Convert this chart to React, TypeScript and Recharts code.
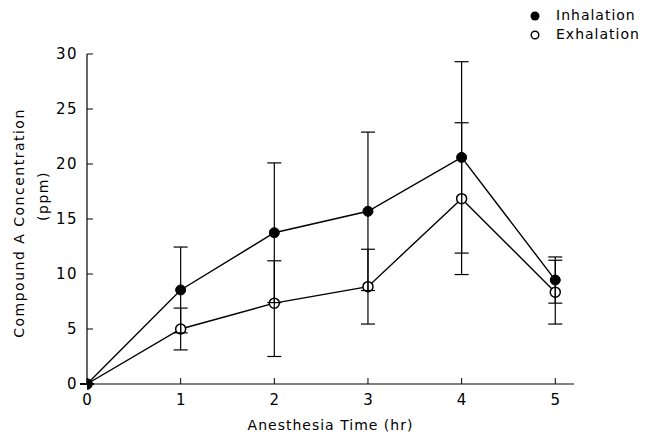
import { LineChart, Line, XAxis, YAxis, ErrorBar, Legend, Label } from "recharts"

const hours = [0, 1, 2, 3, 4, 5]
const inhalation = [0, 8.55, 13.75, 15.7, 20.6, 9.45]
const inhalationSd = [0, 3.9, 6.35, 7.2, 8.7, 2.1]
const exhalation = [0, 5.0, 7.35, 8.85, 16.85, 8.35]
const exhalationSdLow = [0, 1.9, 4.85, 3.4, 6.9, 2.9]
const exhalationSdHigh = [0, 1.9, 3.85, 3.4, 6.9, 2.9]
const yTicks = [0, 5, 10, 15, 20, 25, 30]

const data = hours.map((h, i) => ({
  hour: h,
  inh: inhalation[i],
  inhErr: [inhalationSd[i], inhalationSd[i]],
  exh: exhalation[i],
  exhErr: [exhalationSdLow[i], exhalationSdHigh[i]]
}))

const FONT = "'DejaVu Sans', sans-serif"

const YTick = ({ x, y, payload }: any) => (
  <g>
    <line x1={x + 9} x2={x + 15} y1={y} y2={y} stroke="#000" strokeWidth={1} />
    <text x={x} y={y} dy={5} textAnchor="end" fontSize={15} letterSpacing={1.5} fontFamily={FONT} fill="#000">
      {payload.value}
    </text>
  </g>
)

const XTick = ({ x, y, payload }: any) => (
  <g>
    <line x1={x} x2={x} y1={y - 9} y2={y - 15} stroke="#000" strokeWidth={1} />
    <text x={x} y={y} dy={12} textAnchor="middle" fontSize={15} fontFamily={FONT} fill="#000">
      {payload.value}
    </text>
  </g>
)

const YTitle = () => (
  <g fontFamily={FONT} fontSize={14} fill="#000" letterSpacing={1.5}>
    <text transform="translate(24,223) rotate(-90)" textAnchor="middle">Compound A Concentration</text>
    <text transform="translate(48,196) rotate(-90)" textAnchor="middle">(ppm)</text>
  </g>
)

const LegendBox = () => (
  <div style={{ fontFamily: FONT, fontSize: 14, letterSpacing: 1, color: "#000", lineHeight: "19px" }}>
    <div style={{ display: "flex", alignItems: "center" }}>
      <svg width={18} height={12}><circle cx={7} cy={6} r={4.5} fill="#000" /></svg>
      <span style={{ marginLeft: 10 }}>Inhalation</span>
    </div>
    <div style={{ display: "flex", alignItems: "center" }}>
      <svg width={18} height={12}><circle cx={7} cy={6} r={3.8} fill="#fff" stroke="#000" strokeWidth={1.4} /></svg>
      <span style={{ marginLeft: 10 }}>Exhalation</span>
    </div>
  </div>
)

export default function App() {
  return (
    <div style={{ position: "absolute", left: 0, top: 0, background: "#fff" }}>
      <LineChart width={646} height={436} data={data} margin={{ top: 54, right: 72, bottom: 0, left: 0 }}>
        <XAxis
          dataKey="hour"
          type="number"
          domain={[0, 5.2]}
          ticks={hours}
          allowDataOverflow
          height={52}
          tickSize={0}
          tickMargin={9}
          tickLine={false}
          axisLine={{ stroke: "#000", strokeWidth: 1.2 }}
          tick={<XTick />}
        >
          <Label value="Anesthesia Time (hr)" position="insideBottom" offset={6} fontSize={14} fontFamily={FONT} fill="#000" letterSpacing={1} />
        </XAxis>
        <YAxis
          type="number"
          domain={[0, 30]}
          ticks={yTicks}
          width={87}
          tickSize={0}
          tickMargin={9}
          tickLine={false}
          axisLine={{ stroke: "#000", strokeWidth: 1.2 }}
          tick={<YTick />}
          label={<YTitle />}
        />
        <Legend
          layout="vertical"
          align="center"
          verticalAlign="middle"
          wrapperStyle={{ top: 6, left: 528, width: 118 }}
          content={<LegendBox />}
        />
        <Line
          dataKey="exh"
          stroke="#000"
          strokeWidth={1.4}
          dot={{ r: 5, fill: "#fff", stroke: "#000", strokeWidth: 1.5 }}
          isAnimationActive={false}
        >
          <ErrorBar dataKey="exhErr" width={7} stroke="#000" strokeWidth={1.2} direction="y" zIndex={1000} />
        </Line>
        <Line
          dataKey="inh"
          stroke="#000"
          strokeWidth={1.4}
          dot={{ r: 5, fill: "#000", stroke: "#000", strokeWidth: 1 }}
          isAnimationActive={false}
        >
          <ErrorBar dataKey="inhErr" width={7} stroke="#000" strokeWidth={1.2} direction="y" zIndex={1000} />
        </Line>
      </LineChart>
    </div>
  )
}
